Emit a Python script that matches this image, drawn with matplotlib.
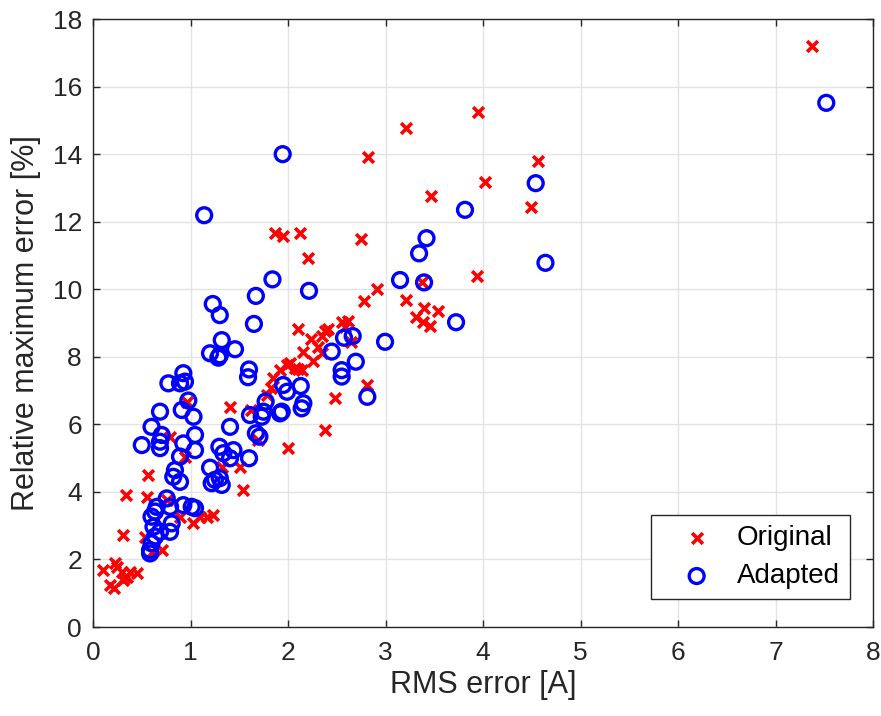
import matplotlib
matplotlib.use('Agg')
import matplotlib.pyplot as plt

# --- Dados ---

# Original (x vermelho)
rms_original = [7.37, 3.945, 3.21, 2.82, 4.56, 4.02, 3.47, 4.49, 1.87, 2.12,
                1.945, 2.745, 2.205, 3.935, 3.37, 2.91, 2.78, 3.21, 3.395, 3.535,
                3.31, 3.38, 3.46, 2.105, 2.24, 2.38, 2.41, 2.55, 2.62, 2.58,
                2.345, 2.155, 2.31, 2.345, 2.26, 1.985, 2.07, 2.14, 2.65, 2.805,
                2.48, 2.38, 1.85, 1.83, 1.78, 1.405, 1.625, 2.0, 1.695, 1.51,
                1.32, 0.96, 0.79, 0.945, 0.565, 1.54, 0.34, 0.55, 0.755, 1.1,
                1.165, 1.235, 1.03, 0.89, 0.31, 0.535, 0.705, 0.6, 0.105, 0.225,
                0.245, 0.295, 0.345, 0.38, 0.45, 0.31, 0.33, 0.175, 0.21, 1.92,
                2.1, 2.02]
max_original = [17.2, 15.27, 14.78, 13.92, 13.81, 13.18, 12.78, 12.43, 11.68, 11.68,
                11.58, 11.50, 10.92, 10.41, 10.21, 10.0, 9.66, 9.69, 9.44, 9.36,
                9.19, 9.03, 8.92, 8.82, 8.53, 8.78, 8.82, 9.05, 9.08, 8.9,
                8.62, 8.15, 8.30, 8.11, 7.88, 7.75, 7.68, 7.60, 8.45, 7.17,
                6.79, 5.84, 7.37, 7.07, 6.87, 6.52, 6.43, 5.29, 5.55, 4.75,
                4.73, 6.68, 5.64, 5.05, 4.50, 4.06, 3.91, 3.86, 3.76, 3.27,
                3.27, 3.32, 3.07, 3.27, 2.73, 2.68, 2.28, 2.23, 1.69, 1.89,
                1.79, 1.64, 1.49, 1.64, 1.59, 1.39, 1.49, 1.24, 1.15, 7.61,
                7.63, 7.81]

# Adapted (círculos azuis)
rms_adapted = [7.52, 1.945, 1.14, 4.54, 3.815, 3.42, 3.344, 4.64, 3.149, 3.395,
               1.84, 2.215, 3.723, 2.995, 2.574, 2.663, 2.448, 2.695, 2.55, 2.55,
               2.13, 2.813, 1.95, 1.99, 2.157, 2.14, 1.935, 1.67, 1.228, 1.30,
               1.65, 1.32, 1.2, 1.285, 1.456, 1.30, 1.60, 1.59, 0.926, 0.943,
               0.773, 0.892, 1.77, 1.747, 1.73, 1.61, 1.918, 1.67, 1.706, 1.405,
               1.03, 0.91, 0.977, 0.687, 0.60, 0.704, 0.687, 0.687, 0.50, 1.046,
               1.046, 0.926, 0.892, 1.296, 1.337, 1.44, 1.405, 1.60, 1.2, 1.25,
               1.32, 1.217, 1.30, 0.84, 0.823, 0.892, 0.756, 0.653, 0.636, 0.60,
               0.79, 0.926, 1.012, 1.046, 0.807, 0.79, 0.687, 0.636, 0.62, 0.60,
               0.585, 0.585]
max_adapted = [15.53, 14.01, 12.2, 13.15, 12.36, 11.52, 11.07, 10.79, 10.28, 10.21,
               10.30, 9.96, 9.03, 8.45, 8.57, 8.62, 8.16, 7.86, 7.61, 7.42,
               7.14, 6.82, 7.17, 6.97, 6.63, 6.48, 6.38, 9.81, 9.57, 9.24,
               8.98, 8.50, 8.11, 7.98, 8.23, 8.05, 7.63, 7.40, 7.52, 7.27,
               7.22, 7.22, 6.68, 6.38, 6.23, 6.28, 6.33, 5.74, 5.64, 5.93,
               6.23, 6.43, 6.71, 6.38, 5.93, 5.69, 5.49, 5.30, 5.39, 5.69,
               5.24, 5.44, 5.05, 5.34, 5.15, 5.24, 5.0, 5.0, 4.72, 4.36,
               4.21, 4.26, 4.41, 4.65, 4.45, 4.30, 3.81, 3.56, 3.42, 3.27,
               3.56, 3.61, 3.56, 3.52, 3.07, 2.82, 2.82, 2.68, 2.97, 2.48,
               2.28, 2.18]

x_ticks = [0, 1, 2, 3, 4, 5, 6, 7, 8]
y_ticks = [0, 2, 4, 6, 8, 10, 12, 14, 16, 18]

plt.rcParams['font.family'] = ['Liberation Sans', 'DejaVu Sans']

fig = plt.figure(figsize=(8.81, 7.16), dpi=100)
ax = fig.add_axes([0.1056, 0.1243, 0.8854, 0.8485])

ax.scatter(rms_original, max_original, marker='x', s=60, color='#ff0000',
           linewidths=2.6, label='Original', zorder=3)
ax.scatter(rms_adapted, max_adapted, marker='o', s=115, facecolors='none',
           edgecolors='#0000ff', linewidths=2.4, label='Adapted', zorder=4)

ax.set_xlim(0, 8)
ax.set_ylim(0, 18)
ax.set_xticks(x_ticks)
ax.set_yticks(y_ticks)
ax.grid(True, color='#e3e3e3', linewidth=1.0)
ax.set_axisbelow(True)

ax.tick_params(direction='in', length=5, width=1, top=True, right=True,
               labelsize=19, colors='#262626')
ax.tick_params(axis='x', pad=10)
ax.tick_params(axis='y', pad=8)
for s in ax.spines.values():
    s.set_color('#262626')
    s.set_linewidth(1.0)

ax.set_xlabel('RMS error [A]', fontsize=22, color='#262626', labelpad=4)
ax.set_ylabel('Relative maximum error [%]', fontsize=22, color='#262626', labelpad=8)

leg = ax.legend(loc='lower right', bbox_to_anchor=(0.970, 0.046), fontsize=20,
                fancybox=False, framealpha=1, edgecolor='#262626',
                borderpad=0.35, handlelength=2.6, handletextpad=0.15,
                labelspacing=0.45, borderaxespad=0)
leg.get_frame().set_linewidth(1.0)

fig.savefig('out.png', dpi=100)
